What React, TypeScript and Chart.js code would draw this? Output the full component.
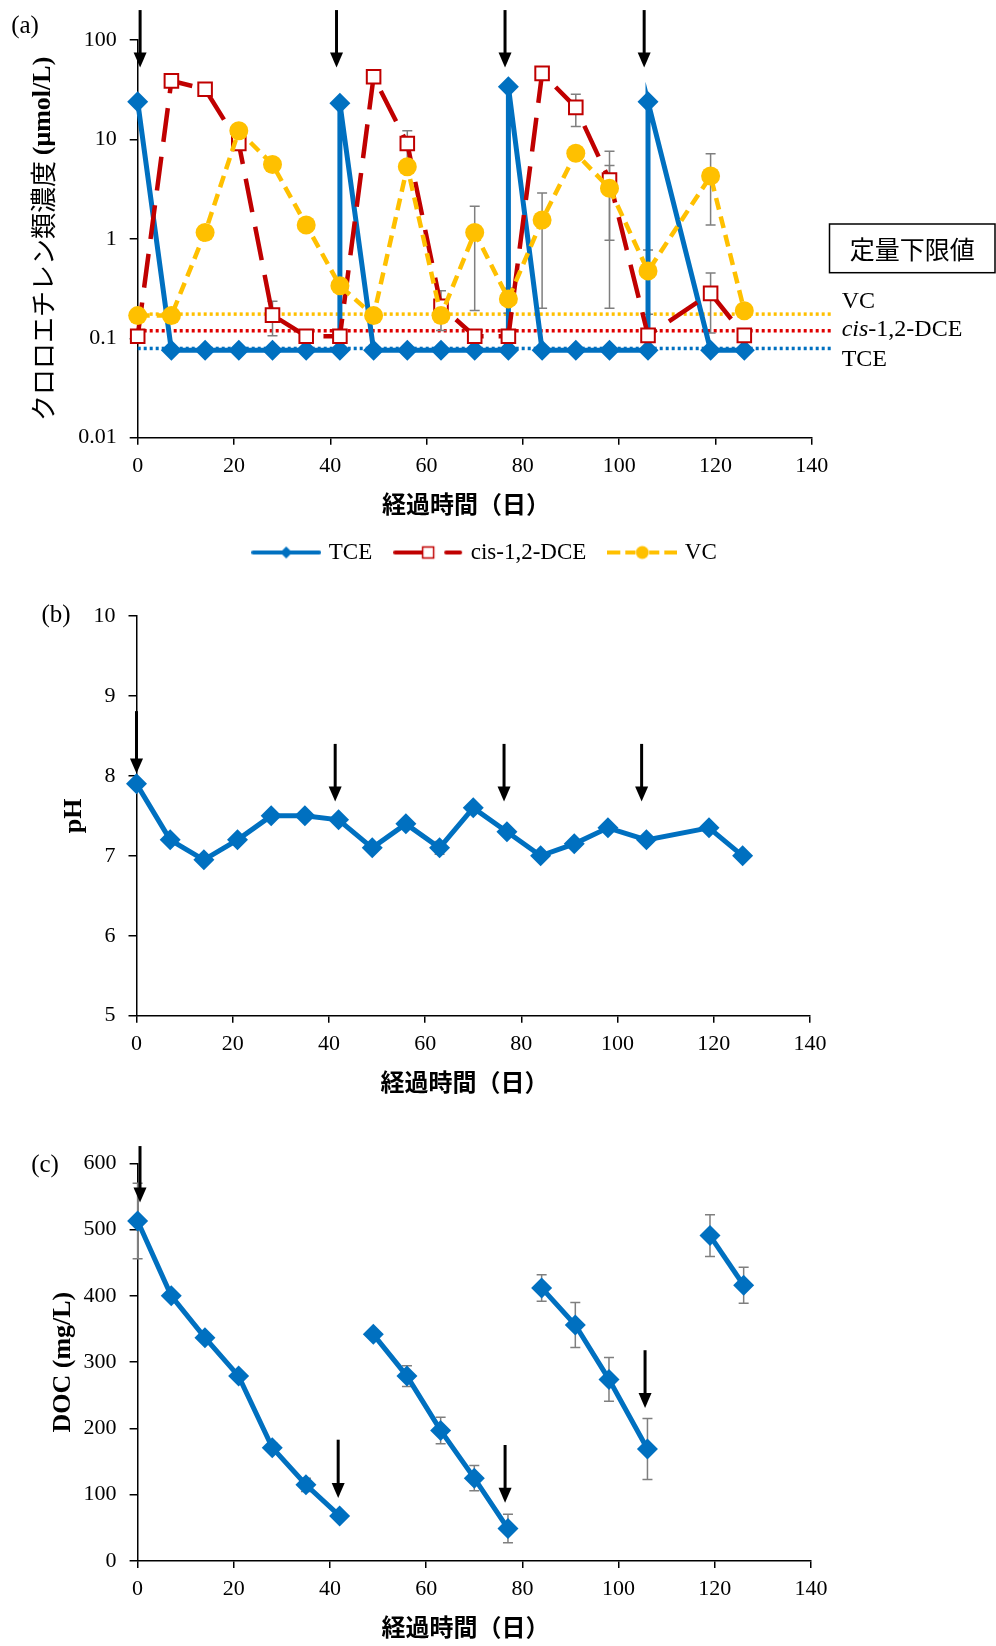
import React, { useEffect, useRef } from "react";
import { Chart, registerables } from "chart.js";

Chart.register(...registerables);

const SERIF = "'Liberation Serif', 'Times New Roman', serif";
const CJK = "'Noto Sans CJK JP', 'Noto Sans CJK SC', sans-serif";
const BLUE = "#0070C0";
const RED = "#C00000";
const YELLOW = "#FFC000";
const GRAY = "#7F7F7F";

// ---------- (a) chloroethenes (µmol/L) ----------
const tceDays = [0, 7, 14, 21, 28, 35, 42, 42, 49, 56, 63, 70, 77, 77, 84, 91, 98, 106, 106, 119, 126];
const tceValues = [23.9, 0.076, 0.076, 0.076, 0.076, 0.076, 0.076, 23.1, 0.076, 0.076, 0.076, 0.076, 0.076, 33.9, 0.076, 0.076, 0.076, 0.076, 23.9, 0.076, 0.076];
const sampleDays = [0, 7, 14, 21, 28, 35, 42, 49, 56, 63, 70, 77, 84, 91, 98, 106, 119, 126];
const dceValues = [0.105, 38.8, 32, 9.1, 0.171, 0.105, 0.105, 42.7, 9.1, 0.21, 0.105, 0.105, 46.2, 21, 3.9, 0.107, 0.283, 0.107];
const dceErrors = [0, 0, 0, 0, 0.065, 0, 0, 0, 3.1, 0.09, 0, 0, 0, 7.5, 3.7, 0, 0.17, 0];
const vcValues = [0.169, 0.169, 1.16, 12.2, 5.6, 1.38, 0.337, 0.169, 5.3, 0.169, 1.16, 0.249, 1.55, 7.25, 3.22, 0.474, 4.28, 0.189];
const vcErrors = [0, 0, 0.08, 0, 0.5, 0, 0, 0, 0, 0, 0.97, 0.07, 1.35, 0, 2.25, 0.3, 2.9, 0];
const limitLabels = ["VC", "cis-1,2-DCE", "TCE"];
const limitValues = [0.175, 0.119, 0.079];
const logTicks = [0.01, 0.1, 1, 10, 100];
const aArrowDays = [0.5, 41.3, 76.3, 105.2];
const aArrowFrom = [200, 200, 200, 200];
const aArrowTo = [53, 53, 53, 53];

// ---------- (b) pH ----------
const phValues = [7.9, 7.2, 6.95, 7.2, 7.5, 7.5, 7.45, 7.1, 7.4, 7.1, 7.6, 7.3, 7.0, 7.15, 7.35, 7.2, 7.35, 7.0];
const phErrors = [0, 0, 0, 0, 0, 0, 0, 0, 0, 0.08, 0, 0, 0, 0, 0, 0, 0, 0];
const bArrowDays = [0, 41.3, 76.4, 105];
const bArrowFrom = [8.81, 8.4, 8.4, 8.4];
const bArrowTo = [8.03, 7.68, 7.68, 7.68];

// ---------- (c) DOC (mg/L) ----------
const docValues = [513, 400, 337, 279, 171, 115, 68, 342, 279, 197, 125, 49, 412, 356, 274, 169, 491, 416];
const docErrors = [57, 5, 6, 6, 7, 10, 5, 6, 15.6, 20, 19, 21.5, 20, 34, 33, 46, 31.5, 27];
const docBreakAfter = [42, 77, 106];
const cArrowDays = [0.5, 41.7, 76.4, 105.5];
const cArrowFrom = [626, 183, 175, 318];
const cArrowTo = [541, 95, 88, 231];

const xTitle = "経過時間（日）";

// ---------- helpers ----------
function xAxis(height: number) {
  return {
    type: "linear",
    min: 0,
    max: 140,
    ticks: { stepSize: 20, color: "#000", font: { family: SERIF, size: 22 }, padding: 8, maxRotation: 0, autoSkip: false },
    grid: { display: true, drawOnChartArea: false, drawTicks: true, tickLength: 7, color: "#000", lineWidth: 1.5 },
    border: { display: true, color: "#000", width: 1.5 },
    afterFit: (s: any) => {
      s.height = height;
    },
  };
}

function yGrid(width: number) {
  return {
    grid: { display: true, drawOnChartArea: false, drawTicks: true, tickLength: 8, color: "#000", lineWidth: 1.5 },
    border: { display: true, color: "#000", width: 1.5 },
    afterFit: (s: any) => {
      s.width = width;
    },
  };
}

function drawErrorBars(chart: any, errs: (number[] | null)[]) {
  const { ctx } = chart;
  const xs = chart.scales.x;
  const ys = chart.scales.y;
  ctx.save();
  ctx.strokeStyle = GRAY;
  ctx.lineWidth = 1.5;
  ctx.setLineDash([]);
  chart.data.datasets.forEach((ds: any, i: number) => {
    const e = errs[i];
    if (!e) return;
    ds.data.forEach((p: any, j: number) => {
      const err = e[j];
      if (!err) return;
      const px = xs.getPixelForValue(p.x);
      const hi = ys.getPixelForValue(p.y + err);
      const lo = ys.getPixelForValue(p.y - err);
      ctx.beginPath();
      ctx.moveTo(px, hi);
      ctx.lineTo(px, lo);
      ctx.moveTo(px - 5, hi);
      ctx.lineTo(px + 5, hi);
      ctx.moveTo(px - 5, lo);
      ctx.lineTo(px + 5, lo);
      ctx.stroke();
    });
  });
  ctx.restore();
}

function drawArrows(chart: any, days: number[], from: number[], to: number[]) {
  const { ctx } = chart;
  const xs = chart.scales.x;
  const ys = chart.scales.y;
  ctx.save();
  ctx.fillStyle = "#000";
  ctx.strokeStyle = "#000";
  ctx.setLineDash([]);
  days.forEach((d, i) => {
    const px = xs.getPixelForValue(d);
    const y0 = ys.getPixelForValue(from[i]);
    const y1 = ys.getPixelForValue(to[i]);
    ctx.lineWidth = 3;
    ctx.beginPath();
    ctx.moveTo(px, y0);
    ctx.lineTo(px, y1 - 12);
    ctx.stroke();
    ctx.beginPath();
    ctx.moveTo(px - 6.5, y1 - 15);
    ctx.lineTo(px + 6.5, y1 - 15);
    ctx.lineTo(px, y1);
    ctx.closePath();
    ctx.fill();
  });
  ctx.restore();
}

function drawXTitle(chart: any) {
  const { ctx, chartArea } = chart;
  ctx.save();
  ctx.fillStyle = "#000";
  ctx.font = `bold 24px ${CJK}`;
  ctx.textAlign = "center";
  ctx.textBaseline = "middle";
  ctx.fillText(xTitle, (chartArea.left + chartArea.right) / 2 - 8.7, chartArea.bottom + 66);
  ctx.restore();
}

function drawPanelLabel(chart: any, text: string, x: number, y: number) {
  const { ctx } = chart;
  ctx.save();
  ctx.fillStyle = "#000";
  ctx.font = `25px ${SERIF}`;
  ctx.textAlign = "center";
  ctx.textBaseline = "middle";
  ctx.fillText(text, x, y);
  ctx.restore();
}

function drawYTitleSimple(chart: any, text: string, x: number) {
  const { ctx, chartArea } = chart;
  ctx.save();
  ctx.fillStyle = "#000";
  ctx.font = `bold 26px ${SERIF}`;
  ctx.translate(x, (chartArea.top + chartArea.bottom) / 2);
  ctx.rotate(-Math.PI / 2);
  ctx.textAlign = "center";
  ctx.textBaseline = "middle";
  ctx.fillText(text, 0, 0);
  ctx.restore();
}

function legendIcon(kind: string) {
  const c = document.createElement("canvas");
  c.width = 70;
  c.height = 22;
  const g = c.getContext("2d")!;
  const cy = 11;
  g.lineWidth = 4;
  g.lineCap = "round";
  if (kind === "tce") {
    g.strokeStyle = BLUE;
    g.beginPath();
    g.moveTo(2, cy);
    g.lineTo(68, cy);
    g.stroke();
    g.fillStyle = BLUE;
    g.beginPath();
    g.moveTo(35 - 6, cy);
    g.lineTo(35, cy - 6);
    g.lineTo(35 + 6, cy);
    g.lineTo(35, cy + 6);
    g.closePath();
    g.fill();
  } else if (kind === "dce") {
    g.strokeStyle = RED;
    g.beginPath();
    g.moveTo(2, cy);
    g.lineTo(29, cy);
    g.moveTo(53, cy);
    g.lineTo(67, cy);
    g.stroke();
    g.fillStyle = "#fff";
    g.fillRect(29.5, cy - 5.5, 11, 11);
    g.lineWidth = 1.5;
    g.strokeRect(29.5, cy - 5.5, 11, 11);
  } else {
    g.strokeStyle = YELLOW;
    g.lineCap = "butt";
    g.beginPath();
    [[0, 13], [18, 28], [42, 52], [57, 70]].forEach(([a, b]) => {
      g.moveTo(a, cy);
      g.lineTo(b, cy);
    });
    g.stroke();
    g.fillStyle = YELLOW;
    g.beginPath();
    g.arc(35, cy, 6.5, 0, Math.PI * 2);
    g.fill();
  }
  return c;
}

// ---------- chart configs ----------
function configA(): any {
  const icons = [legendIcon("tce"), legendIcon("dce"), legendIcon("vc")];
  const limitColors = [YELLOW, "#E00000", BLUE];
  const labelOffsets = [-12.6, -1, 11];
  const decor = {
    id: "decorA",
    beforeDatasetsDraw(chart: any) {
      const { ctx, chartArea } = chart;
      const ys = chart.scales.y;
      ctx.save();
      limitValues.forEach((v, i) => {
        const py = ys.getPixelForValue(v);
        ctx.strokeStyle = limitColors[i];
        ctx.lineWidth = 3.5;
        ctx.setLineDash([3, 3]);
        ctx.beginPath();
        ctx.moveTo(chartArea.left, py);
        ctx.lineTo(833, py);
        ctx.stroke();
      });
      ctx.restore();
      drawErrorBars(chart, [null, dceErrors, vcErrors]);
    },
    afterDraw(chart: any) {
      const { ctx, chartArea } = chart;
      const ys = chart.scales.y;
      drawArrows(chart, aArrowDays, aArrowFrom, aArrowTo);
      // limit labels
      ctx.save();
      ctx.fillStyle = "#000";
      ctx.textAlign = "left";
      ctx.textBaseline = "middle";
      limitLabels.forEach((lab, i) => {
        const py = ys.getPixelForValue(limitValues[i]) + labelOffsets[i];
        let x = 841.7;
        if (lab.startsWith("cis")) {
          ctx.font = `italic 24px ${SERIF}`;
          ctx.fillText("cis", x, py);
          x += ctx.measureText("cis").width;
          ctx.font = `24px ${SERIF}`;
          ctx.fillText(lab.slice(3), x, py);
        } else {
          ctx.font = `24px ${SERIF}`;
          ctx.fillText(lab, x, py);
        }
      });
      // box
      ctx.strokeStyle = "#000";
      ctx.lineWidth = 1.5;
      ctx.strokeRect(829.5, 224, 165.5, 48.7);
      ctx.font = `25px ${CJK}`;
      ctx.textAlign = "center";
      ctx.fillText("定量下限値", 912.2, 249);
      // y title
      const p1 = "クロロエチレン類濃度 ";
      const p2 = "(μmol/L)";
      ctx.font = `26px ${CJK}`;
      const w1 = ctx.measureText(p1).width;
      ctx.font = `bold 26px ${SERIF}`;
      const w2 = ctx.measureText(p2).width;
      ctx.translate(43, (chartArea.top + chartArea.bottom) / 2);
      ctx.rotate(-Math.PI / 2);
      ctx.textAlign = "left";
      ctx.font = `26px ${CJK}`;
      ctx.fillText(p1, -(w1 + w2) / 2, 0);
      ctx.font = `bold 26px ${SERIF}`;
      ctx.fillText(p2, -(w1 + w2) / 2 + w1, 0);
      ctx.restore();
      drawXTitle(chart);
      drawPanelLabel(chart, "(a)", 25, 26);
    },
  };
  return {
    type: "line",
    data: {
      datasets: [
        {
          label: "TCE",
          data: tceDays.map((d, i) => ({ x: d, y: tceValues[i] })),
          borderColor: BLUE,
          backgroundColor: BLUE,
          borderWidth: 5,
          pointStyle: "rectRot",
          pointRadius: 10.5,
          pointBackgroundColor: BLUE,
          pointBorderColor: BLUE,
          pointBorderWidth: 0,
          order: 3,
          clip: false,
        },
        {
          label: "cis-1,2-DCE",
          data: sampleDays.map((d, i) => ({ x: d, y: dceValues[i] })),
          borderColor: RED,
          backgroundColor: "#fff",
          borderWidth: 4.5,
          borderDash: [34, 15],
          pointStyle: "rect",
          pointRadius: 9.6,
          pointBackgroundColor: "#fff",
          pointBorderColor: RED,
          pointBorderWidth: 2,
          order: 2,
          clip: false,
        },
        {
          label: "VC",
          data: sampleDays.map((d, i) => ({ x: d, y: vcValues[i] })),
          borderColor: YELLOW,
          backgroundColor: YELLOW,
          borderWidth: 4.5,
          borderDash: [12, 7],
          pointStyle: "circle",
          pointRadius: 9.5,
          pointBackgroundColor: YELLOW,
          pointBorderColor: YELLOW,
          pointBorderWidth: 0,
          order: 1,
          clip: false,
        },
      ],
    },
    options: {
      responsive: false,
      animation: false,
      devicePixelRatio: 1,
      layout: { padding: { top: 40, right: 24, bottom: 0, left: 0 } },
      scales: {
        x: xAxis(78.3),
        y: {
          type: "logarithmic",
          min: 0.01,
          max: 100,
          ...yGrid(137.7),
          afterBuildTicks: (s: any) => {
            s.ticks = logTicks.map((v) => ({ value: v, major: true }));
          },
          ticks: { color: "#000", font: { family: SERIF, size: 22 }, padding: 13, callback: (v: any) => String(v) },
        },
        yR: {
          type: "linear",
          position: "right",
          display: true,
          grid: { display: false },
          border: { display: false },
          ticks: { display: false },
          afterFit: (s: any) => {
            s.width = 160.3;
          },
        },
      },
      plugins: {
        tooltip: { enabled: false },
        legend: {
          display: true,
          position: "bottom",
          labels: {
            color: "#000",
            font: { family: SERIF, size: 23 },
            padding: 25,
            usePointStyle: true,
            pointStyleWidth: 62,
            sort: (a: any, b: any) => a.datasetIndex - b.datasetIndex,
            generateLabels: (chart: any) => {
              const items = (Chart.defaults.plugins.legend.labels as any).generateLabels(chart);
              return items.map((it: any) => ({ ...it, pointStyle: icons[it.datasetIndex], fontColor: "#000" }));
            },
          },
        },
      },
    },
    plugins: [decor],
  };
}

function configB(): any {
  const decor = {
    id: "decorB",
    beforeDatasetsDraw(chart: any) {
      drawErrorBars(chart, [phErrors]);
    },
    afterDraw(chart: any) {
      drawArrows(chart, bArrowDays, bArrowFrom, bArrowTo);
      drawYTitleSimple(chart, "pH", 74);
      drawXTitle(chart);
      drawPanelLabel(chart, "(b)", 56, 35);
    },
  };
  return {
    type: "line",
    data: {
      datasets: [
        {
          label: "pH",
          data: sampleDays.map((d, i) => ({ x: d, y: phValues[i] })),
          borderColor: BLUE,
          backgroundColor: BLUE,
          borderWidth: 5,
          pointStyle: "rectRot",
          pointRadius: 10.5,
          pointBackgroundColor: BLUE,
          pointBorderWidth: 0,
          clip: false,
        },
      ],
    },
    options: {
      responsive: false,
      animation: false,
      devicePixelRatio: 1,
      layout: { padding: { top: 36, right: 186, bottom: 0, left: 0 } },
      scales: {
        x: xAxis(84.3),
        y: {
          type: "linear",
          min: 5,
          max: 10,
          ...yGrid(136.5),
          ticks: { stepSize: 1, color: "#000", font: { family: SERIF, size: 22 }, padding: 13 },
        },
      },
      plugins: { legend: { display: false }, tooltip: { enabled: false } },
    },
    plugins: [decor],
  };
}

function configC(): any {
  const decor = {
    id: "decorC",
    beforeDatasetsDraw(chart: any) {
      drawErrorBars(chart, [docErrors]);
    },
    afterDraw(chart: any) {
      drawArrows(chart, cArrowDays, cArrowFrom, cArrowTo);
      drawYTitleSimple(chart, "DOC (mg/L)", 63.5);
      drawXTitle(chart);
      drawPanelLabel(chart, "(c)", 45, 65);
    },
  };
  return {
    type: "line",
    data: {
      datasets: [
        {
          label: "DOC",
          data: sampleDays.map((d, i) => ({ x: d, y: docValues[i] })),
          borderColor: BLUE,
          backgroundColor: BLUE,
          borderWidth: 5,
          pointStyle: "rectRot",
          pointRadius: 10.5,
          pointBackgroundColor: BLUE,
          pointBorderWidth: 0,
          clip: false,
          segment: {
            borderColor: (ctx: any) => (docBreakAfter.includes(ctx.p0.parsed.x) ? "rgba(0,0,0,0)" : BLUE),
          },
        },
      ],
    },
    options: {
      responsive: false,
      animation: false,
      devicePixelRatio: 1,
      layout: { padding: { top: 63.3, right: 185, bottom: 0, left: 0 } },
      scales: {
        x: xAxis(85),
        y: {
          type: "linear",
          min: 0,
          max: 600,
          ...yGrid(137.6),
          ticks: { stepSize: 100, color: "#000", font: { family: SERIF, size: 22 }, padding: 13 },
        },
      },
      plugins: { legend: { display: false }, tooltip: { enabled: false } },
    },
    plugins: [decor],
  };
}

function ChartCanvas({ top, height, make }: { top: number; height: number; make: () => any }) {
  const ref = useRef<HTMLCanvasElement>(null);
  useEffect(() => {
    const chart = new Chart(ref.current as HTMLCanvasElement, make());
    return () => chart.destroy();
  }, []);
  return (
    <canvas
      ref={ref}
      width={996}
      height={height}
      style={{ position: "absolute", left: 0, top, width: 996, height, display: "block" }}
    />
  );
}

export default function App() {
  return (
    <div style={{ position: "absolute", left: 0, top: 0, width: 996, height: 1646, background: "#fff" }}>
      <ChartCanvas top={0} height={574} make={configA} />
      <ChartCanvas top={580} height={520} make={configB} />
      <ChartCanvas top={1100} height={546} make={configC} />
    </div>
  );
}
